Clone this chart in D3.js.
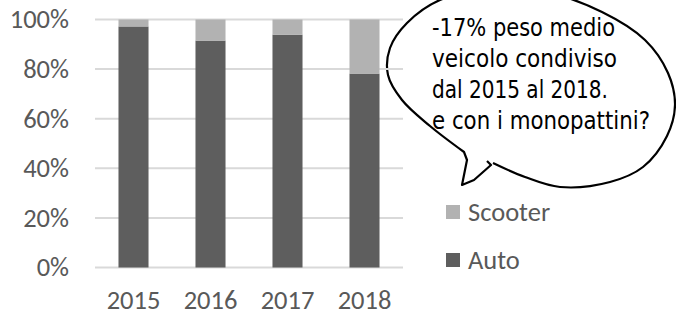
<!DOCTYPE html>
<html lang="it">
<head>
<meta charset="utf-8">
<title>Auto vs Scooter</title>
<script src="https://cdnjs.cloudflare.com/ajax/libs/d3/7.8.5/d3.min.js"></script>
<style>
  body { margin: 0; background: #fff; }
  svg text { font-family: Carlito, "Open Sans", sans-serif; fill: #595959; }
  .bubble text { font-family: "DejaVu Sans Condensed", "Liberation Sans Narrow", sans-serif; fill: #000; }
</style>
</head>
<body>
<div id="chart"></div>
<script>
// data
const years = ["2015", "2016", "2017", "2018"];
const auto = [0.972, 0.915, 0.939, 0.782];
const scooter = [0.028, 0.085, 0.061, 0.218];
const yTicks = [0, 0.2, 0.4, 0.6, 0.8, 1];
const seriesNames = ["Scooter", "Auto"];
const colors = { Auto: "#5e5e5e", Scooter: "#b2b2b2" };
const noteLines = ["-17% peso medio", "veicolo condiviso", "dal 2015 al 2018.", "e con i monopattini?"];

const width = 676, height = 312;
const fontSize = 26.5;

const svg = d3.select("#chart").append("svg")
    .attr("width", width)
    .attr("height", height);

// speech bubble (drawn under the chart, gridlines show through)
const bubble = svg.append("g").attr("class", "bubble");
const outline = [
  [493, 163], [525, 177], [560, 187], [610, 182], [643, 167], [667, 136],
  [675, 105], [668, 73], [645, 40], [602, 12], [545, -8], [490, -10],
  [440, 0], [407, 23], [390, 48], [388, 75], [402, 100], [430, 126], [464, 152]
];
const pathStr = d3.line().curve(d3.curveCatmullRom)(outline) +
  "L467,160L462,185L474,180L491,165L487,161";
bubble.append("path")
    .attr("d", pathStr)
    .attr("fill", "none")
    .attr("stroke", "#000")
    .attr("stroke-width", 2.2)
    .attr("stroke-linejoin", "round");

const noteWidths = [183, 185, 176, 218];
bubble.selectAll("text")
  .data(noteLines)
  .join("text")
    .attr("x", 432)
    .attr("y", (d, i) => 27 + i * 31)
    .attr("dy", "0.35em")
    .attr("font-size", 25)
    .attr("textLength", (d, i) => noteWidths[i])
    .attr("lengthAdjust", "spacingAndGlyphs")
    .text(d => d);

// scales
const x = d3.scaleBand()
    .domain(years)
    .range([95, 403])
    .paddingInner(0.61)
    .paddingOuter(0.305);

const y = d3.scaleLinear()
    .domain([0, 1])
    .range([267.5, 19.5]);

// gridlines
svg.append("g")
  .selectAll("line")
  .data(yTicks)
  .join("line")
    .attr("x1", 95)
    .attr("x2", 403)
    .attr("y1", d => y(d))
    .attr("y2", d => y(d))
    .attr("stroke", "#d9d9d9")
    .attr("stroke-width", 2);

// y axis labels
const yAxis = d3.axisLeft(y)
    .tickValues(yTicks)
    .tickFormat(d3.format(".0%"))
    .tickSize(0)
    .tickPadding(0);
const gy = svg.append("g")
    .attr("transform", "translate(69,0)")
    .call(yAxis);
gy.select(".domain").remove();
gy.selectAll("text")
    .attr("font-size", fontSize)
    .attr("fill", "#595959")
    .style("font-family", "Carlito, 'Open Sans', sans-serif");

// x axis labels
const xAxis = d3.axisBottom(x).tickSize(0).tickPadding(0);
const gx = svg.append("g")
    .attr("transform", "translate(0,300)")
    .call(xAxis);
gx.select(".domain").remove();
gx.selectAll("text")
    .attr("dy", "0.35em")
    .attr("font-size", fontSize)
    .attr("fill", "#595959")
    .style("font-family", "Carlito, 'Open Sans', sans-serif");

// stacked bars
const table = years.map((yr, i) => ({ year: yr, Auto: auto[i], Scooter: scooter[i] }));
const stack = d3.stack().keys(["Auto", "Scooter"])(table);

svg.append("g")
  .selectAll("g")
  .data(stack)
  .join("g")
    .attr("fill", d => colors[d.key])
  .selectAll("rect")
  .data(d => d)
  .join("rect")
    .attr("x", d => x(d.data.year))
    .attr("width", x.bandwidth())
    .attr("y", d => y(d[1]))
    .attr("height", d => y(d[0]) - y(d[1]));

// legend
const legendY = d3.scalePoint().domain(seriesNames).range([212, 260]);
const legend = svg.append("g")
  .selectAll("g")
  .data(seriesNames)
  .join("g")
    .attr("transform", d => `translate(446,${legendY(d)})`);
legend.append("rect")
    .attr("x", 0)
    .attr("y", -7)
    .attr("width", 14)
    .attr("height", 14)
    .attr("fill", d => colors[d]);
legend.append("text")
    .attr("x", 22)
    .attr("dy", "0.35em")
    .attr("font-size", fontSize)
    .text(d => d);
</script>
</body>
</html>
